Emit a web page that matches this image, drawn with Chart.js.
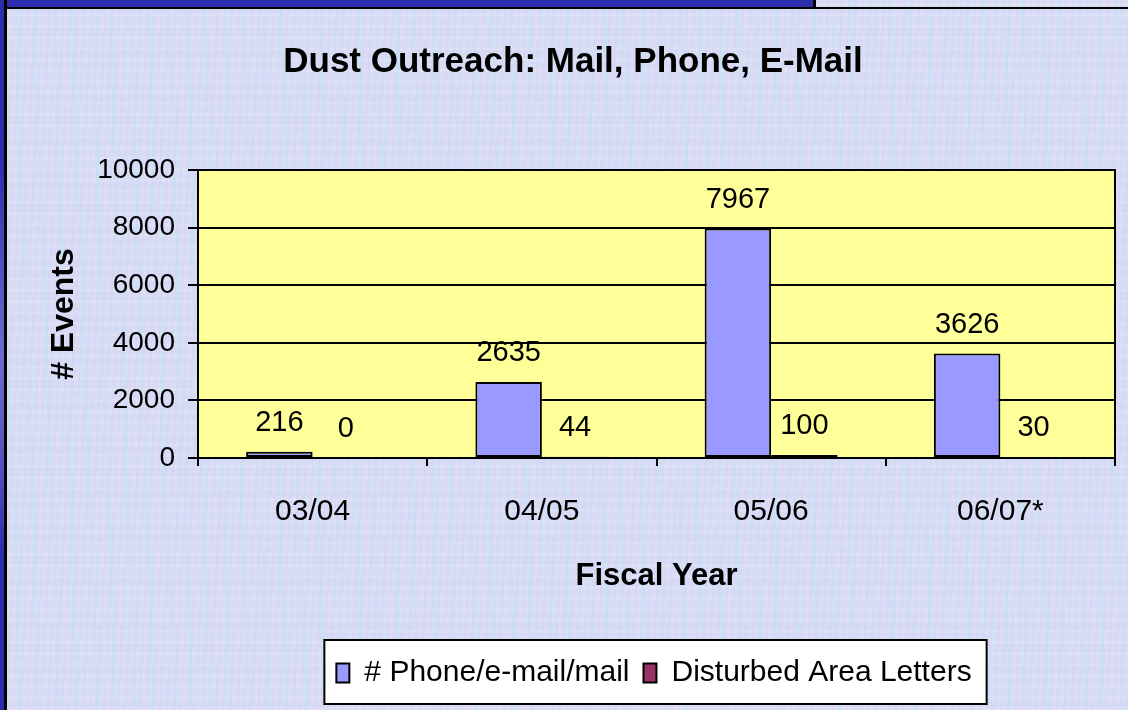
<!DOCTYPE html>
<html>
<head>
<meta charset="utf-8">
<script src="https://cdn.jsdelivr.net/npm/chart.js@4.4.1/dist/chart.umd.min.js"></script>
<style>
  html, body { margin: 0; padding: 0; }
  body {
    width: 1128px; height: 710px; position: relative; overflow: hidden;
    background-color: #d6dcf4;
    background-image:
      repeating-linear-gradient(90deg, rgba(240, 210, 240, 0.25) 0 3px, transparent 3px 13px),
      repeating-linear-gradient(88deg, rgba(185, 230, 246, 0.3) 0 4px, transparent 4px 19px),
      repeating-linear-gradient(93deg, rgba(205, 195, 245, 0.2) 0 2px, transparent 2px 7px),
      repeating-linear-gradient(0deg, rgba(255, 255, 255, 0.15) 0 3px, transparent 3px 11px);
  }
  .band { position: absolute; }
  #topBand { left: 0; top: 0; width: 813px; height: 7px; background: #2c2cae; }
  #topLine { left: 0; top: 7px; width: 1128px; height: 2px; background: #000; }
  #topTick { left: 813px; top: 0; width: 3px; height: 9px; background: #000; }
  #leftBand { left: 0; top: 0; width: 4px; height: 710px;
    background: linear-gradient(to bottom, #2c2cae 0%, #2c2cae 22%, #6c6cd0 50%, #5454c2 65%, #2c2cae 78%, #2c2cae 100%); }
  #leftLine { left: 4px; top: 0; width: 3px; height: 710px; background: #000; }
  canvas { position: absolute; left: 0; top: 0; }
</style>
</head>
<body>
<div class="band" id="topBand"></div>
<div class="band" id="topLine"></div>
<div class="band" id="topTick"></div>
<div class="band" id="leftBand"></div>
<div class="band" id="leftLine"></div>
<canvas id="chart" width="1128" height="710"></canvas>
<script>
// Données
const fiscalYears = ['03/04', '04/05', '05/06', '06/07*'];
const phoneEmailMail = [216, 2635, 7967, 3626];
const disturbedAreaLetters = [0, 44, 100, 30];
const yTicks = [0, 2000, 4000, 6000, 8000, 10000];

const sans = "'Liberation Sans', Arial, sans-serif";

Chart.defaults.color = '#000';
Chart.defaults.font.family = sans;

// Fond jaune de la zone de tracé, cadre de la légende, étiquettes des barres
const plotDecor = {
    id: 'plotDecor',
    afterLayout(chart) {
        // centre la légende sous la zone de tracé
        chart.legend.left = 192;
        chart.legend.right = 1116;
    },
    beforeDraw(chart) {
        const { ctx, chartArea: a } = chart;
        ctx.save();
        ctx.fillStyle = '#ffff99';
        ctx.fillRect(a.left, a.top, a.right - a.left, a.bottom - a.top);

        const hb = chart.legend.legendHitBoxes;
        if (hb && hb.length) {
            const first = hb[0], last = hb[hb.length - 1];
            const x0 = first.left - 12, x1 = last.left + last.width + 15;
            const y0 = first.top - 18, y1 = first.top + first.height + 16;
            ctx.fillStyle = '#fff';
            ctx.fillRect(x0, y0, x1 - x0, y1 - y0);
            ctx.strokeStyle = '#000';
            ctx.lineWidth = 2;
            ctx.strokeRect(x0, y0, x1 - x0, y1 - y0);
        }
        ctx.restore();
    },
    afterDatasetsDraw(chart) {
        const { ctx } = chart;
        ctx.save();
        ctx.font = '29px ' + sans;
        ctx.fillStyle = '#000';
        ctx.textAlign = 'center';
        ctx.textBaseline = 'alphabetic';
        chart.data.datasets.forEach((ds, i) => {
            chart.getDatasetMeta(i).data.forEach((bar, j) => {
                ctx.fillText(String(ds.data[j]), bar.x, bar.y - 21);
            });
        });
        const a = chart.chartArea;
        ctx.strokeStyle = '#000';
        ctx.lineWidth = 2;
        ctx.strokeRect(a.left, a.top, a.right - a.left, a.bottom - a.top);
        ctx.restore();
    }
};

new Chart(document.getElementById('chart'), {
    type: 'bar',
    data: {
        labels: fiscalYears,
        datasets: [
            {
                label: '# Phone/e-mail/mail',
                data: phoneEmailMail,
                backgroundColor: '#9999ff',
                borderColor: '#000',
                borderWidth: 2,
                borderSkipped: false
            },
            {
                label: 'Disturbed Area Letters',
                data: disturbedAreaLetters,
                backgroundColor: '#993366',
                borderColor: '#000',
                borderWidth: 2,
                borderSkipped: false
            }
        ]
    },
    options: {
        responsive: false,
        animation: false,
        devicePixelRatio: 1,
        layout: { padding: { left: 31, right: 13, top: 10, bottom: 12 } },
        datasets: { bar: { categoryPercentage: 0.58, barPercentage: 1.0 } },
        plugins: {
            title: {
                display: true,
                text: 'Dust Outreach: Mail, Phone, E-Mail',
                font: { family: sans, size: 35, weight: 'bold' },
                color: '#000',
                padding: { top: 31, bottom: 87 }
            },
            legend: {
                position: 'bottom',
                labels: {
                    font: { family: sans, size: 30 },
                    color: '#000',
                    boxWidth: 13,
                    boxHeight: 19,
                    padding: 14
                }
            },
            tooltip: { enabled: false }
        },
        scales: {
            x: {
                grid: {
                    offset: true,
                    drawOnChartArea: false,
                    color: '#000',
                    lineWidth: 2,
                    tickLength: 8
                },
                border: { display: true, color: '#000', width: 2 },
                ticks: { font: { family: sans, size: 30 }, color: '#000', padding: 28 },
                title: {
                    display: true,
                    text: 'Fiscal Year',
                    font: { family: sans, size: 31, weight: 'bold' },
                    color: '#000',
                    padding: { top: 0, bottom: 49 }
                },
                afterFit: (s) => { s.height = 186; }
            },
            y: {
                min: 0,
                max: 10000,
                afterBuildTicks: (s) => { s.ticks = yTicks.map(v => ({ value: v })); },
                grid: { color: '#000', lineWidth: 2, tickLength: 10 },
                border: { display: true, color: '#000', width: 2 },
                ticks: {
                    font: { family: sans, size: 28 },
                    color: '#000',
                    padding: 13,
                    callback: (v) => String(v)
                },
                title: {
                    display: true,
                    text: '# Events',
                    font: { family: sans, size: 32, weight: 'bold' },
                    color: '#000',
                    padding: { top: 14, bottom: 0 }
                },
                afterFit: (s) => { s.width = 167; }
            }
        }
    },
    plugins: [plotDecor]
});
</script>
</body>
</html>
